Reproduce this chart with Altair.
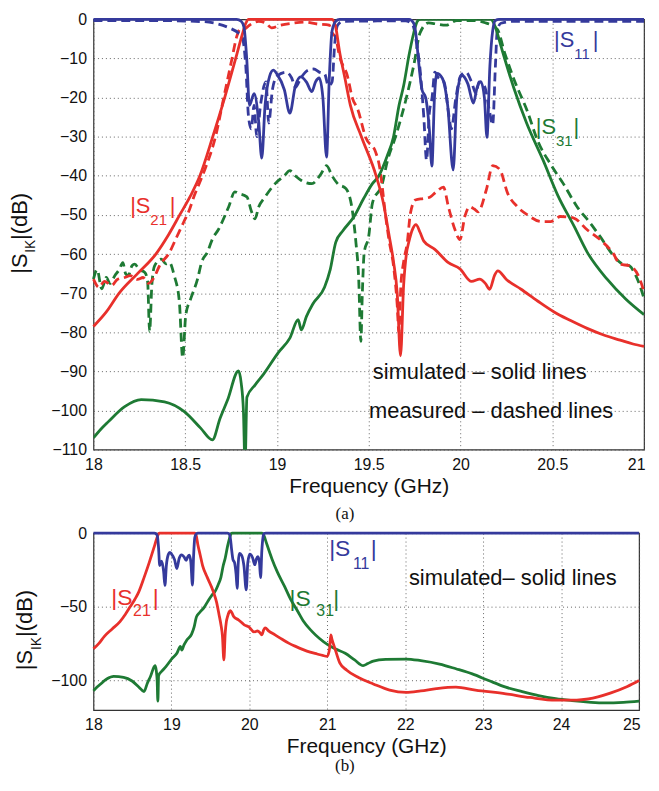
import altair as alt
import pandas as pd

BLUE = "#353a9c"
RED = "#e8302b"
GREEN = "#1e7a34"
FONT = "Liberation Sans"

# ---------------- panel (a): 18-21 GHz ----------------
s11_sim = [(18.0, 0), (18.78, 0), (18.805, -0.5), (18.82, -2), (18.835, -10), (18.85, -22),
           (18.875, -19), (18.9, -26), (18.917, -35.5), (18.935, -22), (18.96, -14.5), (18.98, -13),
           (19.0, -14), (19.04, -18), (19.07, -24), (19.1, -17), (19.13, -14.7), (19.16, -16),
           (19.19, -18.5), (19.21, -16), (19.23, -15), (19.25, -20), (19.27, -35.2), (19.285, -15),
           (19.3, -3), (19.32, -0.5), (19.34, 0), (19.72, 0), (19.745, -1), (19.76, -5), (19.77, -10),
           (19.79, -18), (19.81, -20), (19.83, -28), (19.844, -37.5), (19.858, -20), (19.871, -13.8),
           (19.9, -15), (19.93, -22), (19.96, -38.5), (19.98, -20), (20.006, -14.3), (20.04, -16.5),
           (20.07, -21.4), (20.09, -17.5), (20.11, -15.9), (20.13, -20), (20.144, -30.2), (20.16, -12),
           (20.175, -3), (20.19, -0.3), (20.21, 0), (21.0, 0)]

s11_meas = [(18.0, -0.3), (18.3, -0.3), (18.6, -0.6), (18.68, -1.2), (18.74, -2.2), (18.79, -3.5),
            (18.81, -4.5), (18.83, -12), (18.845, -25), (18.86, -28), (18.875, -22), (18.89, -30),
            (18.91, -22), (18.94, -16), (18.955, -26.5), (18.975, -18), (19.0, -14.5), (19.05, -13.5),
            (19.08, -15), (19.1, -17.4), (19.13, -15), (19.17, -13), (19.2, -12.7), (19.23, -13.5),
            (19.26, -14), (19.28, -17), (19.3, -16), (19.315, -6), (19.33, -1.5), (19.36, -0.5),
            (19.7, -0.4), (19.74, -1.5), (19.76, -6), (19.78, -13), (19.8, -25), (19.815, -36),
            (19.83, -24), (19.845, -20), (19.86, -13.5), (19.88, -15), (19.91, -16), (19.935, -24),
            (19.95, -28), (19.975, -20), (20.0, -14.5), (20.03, -13.5), (20.06, -16), (20.085, -19),
            (20.1, -16), (20.13, -17), (20.16, -24), (20.175, -27), (20.19, -12), (20.2, -3),
            (20.22, -1), (20.3, -0.5), (21.0, -0.5)]

s21_sim = [(18.0, -78.5), (18.07, -74.8), (18.14, -70), (18.24, -65), (18.34, -60), (18.41, -55),
           (18.47, -50), (18.53, -45), (18.58, -40), (18.65, -30), (18.715, -20), (18.775, -10),
           (18.81, -4), (18.83, -1), (18.845, 0), (19.3, 0), (19.32, -2), (19.34, -8), (19.37, -15),
           (19.4, -22), (19.46, -30), (19.54, -40), (19.58, -47), (19.61, -55), (19.635, -62),
           (19.655, -70), (19.673, -86), (19.69, -68), (19.705, -60), (19.718, -57), (19.74, -53.5),
           (19.757, -52.5), (19.78, -54.5), (19.8, -56.7), (19.86, -58.8), (19.934, -62.2),
           (19.997, -63.8), (20.06, -67), (20.105, -66.4), (20.135, -67.5), (20.159, -69),
           (20.185, -65.5), (20.203, -64.3), (20.25, -66.5), (20.33, -69), (20.42, -72), (20.51, -74.8),
           (20.6, -77), (20.69, -79), (20.78, -80.7), (20.87, -82), (20.94, -83), (21.0, -83.6)]

s21_meas = [(18.0, -66.4), (18.03, -68.5), (18.06, -67), (18.1, -68), (18.13, -66.5), (18.17, -66),
            (18.2, -65.5), (18.24, -66.5), (18.27, -66), (18.3, -67.5), (18.33, -66), (18.36, -63),
            (18.414, -59.6), (18.45, -56), (18.49, -52), (18.52, -49), (18.55, -45), (18.585, -41),
            (18.61, -38), (18.665, -30), (18.71, -20), (18.755, -10), (18.78, -4.5), (18.8, -2.5),
            (18.82, -2.5), (18.85, -1.5), (18.9, -0.5), (18.94, -1), (18.97, -2.2), (19.02, -1.5),
            (19.08, -1), (19.15, -0.7), (19.22, -1.2), (19.285, -1.5), (19.3, -3.4), (19.32, -4.7),
            (19.34, -9.3), (19.385, -14.7), (19.41, -20), (19.44, -23), (19.484, -30.3), (19.538, -34),
            (19.56, -38), (19.574, -43), (19.59, -49.6), (19.61, -56.3), (19.637, -63.8), (19.655, -73),
            (19.664, -80), (19.675, -68), (19.69, -62), (19.71, -57), (19.727, -49.6), (19.754, -46.2),
            (19.8, -45.8), (19.835, -45.4), (19.87, -44), (19.907, -42.9), (19.934, -47.9),
            (19.97, -53.8), (19.997, -56.3), (20.024, -50.3), (20.05, -47.9), (20.075, -48.5),
            (20.096, -49.2), (20.14, -43.7), (20.176, -37.4), (20.213, -38.3), (20.257, -44.5),
            (20.31, -47.9), (20.365, -50), (20.44, -51.7), (20.49, -51.7), (20.545, -50.4),
            (20.617, -50.8), (20.69, -53.8), (20.76, -56.3), (20.83, -59.7), (20.87, -62.6),
            (20.92, -63), (20.977, -66.4), (21.0, -69.7)]

s31_sim = [(18.0, -107), (18.04, -104.8), (18.08, -102.9), (18.17, -99), (18.26, -97.2),
           (18.387, -97.8), (18.495, -100.3), (18.584, -104.5), (18.648, -107.5), (18.69, -102),
           (18.73, -97.4), (18.79, -89.9), (18.805, -93), (18.817, -100), (18.826, -114),
           (18.836, -96.6), (18.88, -93.5), (18.927, -90.7), (19.007, -85.2), (19.07, -81.5),
           (19.115, -76.8), (19.133, -79.4), (19.16, -76), (19.196, -72.7), (19.259, -68.5),
           (19.29, -64), (19.32, -57), (19.36, -54), (19.42, -50.4), (19.47, -46), (19.52, -42),
           (19.555, -40), (19.6, -35), (19.635, -30), (19.665, -22), (19.69, -17), (19.72, -9),
           (19.745, -3.5), (19.765, -0.5), (19.78, 0), (20.165, 0), (20.19, -2), (20.22, -6.8),
           (20.29, -17.5), (20.36, -26.5), (20.45, -36), (20.53, -45), (20.62, -53), (20.69, -59.5),
           (20.8, -66.5), (20.9, -71.5), (21.0, -75.5)]

s31_meas = [(18.0, -66.4), (18.02, -64), (18.045, -68.9), (18.07, -66), (18.09, -67.5), (18.117, -65.5),
            (18.14, -64), (18.16, -62.2), (18.175, -65), (18.19, -65.5), (18.21, -63), (18.225, -62.6),
            (18.25, -64), (18.28, -64.7), (18.295, -67), (18.306, -79.8), (18.318, -68), (18.333, -63),
            (18.37, -61.3), (18.395, -62.5), (18.414, -62.2), (18.44, -65.5), (18.468, -72.2),
            (18.486, -86.5), (18.503, -75.6), (18.53, -71.4), (18.567, -66.4), (18.59, -62),
            (18.62, -59.6), (18.65, -56), (18.68, -53.8), (18.737, -47.9), (18.77, -44.1),
            (18.79, -44.5), (18.836, -45.4), (18.86, -49), (18.88, -51), (18.9, -48), (18.935, -45.4),
            (18.99, -42), (19.04, -40), (19.07, -38.7), (19.1, -40), (19.133, -41.2), (19.19, -42),
            (19.24, -39.5), (19.27, -37.4), (19.3, -40), (19.33, -42), (19.376, -43.3), (19.41, -48.7),
            (19.43, -57), (19.445, -66), (19.457, -82.3), (19.465, -70), (19.475, -59.7), (19.5, -55.4),
            (19.52, -47), (19.574, -42), (19.6, -36.5), (19.646, -30), (19.7, -21), (19.745, -11.8),
            (19.78, -3.4), (19.826, -0.9), (19.87, -1.2), (19.92, -1.5), (19.98, -0.3), (20.07, -0.3),
            (20.13, -0.8), (20.2, -2.5), (20.24, -8.5), (20.29, -15.2), (20.365, -23.6), (20.42, -31),
            (20.49, -37), (20.56, -42), (20.635, -47.9), (20.707, -52.1), (20.76, -55.5),
            (20.85, -61.3), (20.88, -62.5), (20.92, -63), (20.95, -65), (20.977, -68), (21.0, -71.4)]

# ---------------- panel (b): simulated curves continued up to 25 GHz ----------------
s11_ext = [(25.0, 0)]
s21_ext = [(21.03, -78), (21.045, -69), (21.06, -72), (21.1, -78.6), (21.16, -88), (21.25, -93),
           (21.4, -98), (21.59, -102.3), (21.8, -106.5), (22.01, -108), (22.2, -107), (22.4, -105.5),
           (22.65, -104.5), (22.9, -106.5), (23.29, -109), (23.6, -111.5), (23.93, -113.3),
           (24.2, -113.3), (24.35, -112.5), (24.63, -108.5), (24.85, -104), (25.0, -100)]
s31_ext = [(21.1, -78.5), (21.23, -81.5), (21.35, -86), (21.46, -89.9), (21.52, -88.5), (21.59, -86.8),
           (21.75, -85.7), (22.01, -85.4), (22.2, -86.5), (22.44, -88.8), (22.65, -92), (22.86, -95.5),
           (23.07, -100), (23.29, -104.5), (23.5, -107.5), (23.71, -110.2), (23.93, -112.3),
           (24.14, -113.6), (24.35, -114.6), (24.56, -115.2), (24.8, -114.8), (25.0, -114)]

# ticks
xa_ticks = [18, 18.5, 19, 19.5, 20, 20.5, 21]
ya_ticks = list(range(-110, 1, 10))
xb_ticks = [18, 19, 20, 21, 22, 23, 24, 25]
yb_ticks = [-100, -50, 0]

# annotations (text, f, dB, size, colour)
labels_a = [("|S", 18.2, -49.6, 22, RED), ("21", 18.31, -52.6, 15, RED), ("|", 18.415, -49.6, 22, RED),
            ("|S", 20.51, -7.2, 22, BLUE), ("11", 20.62, -10.1, 15, BLUE), ("|", 20.72, -7.2, 22, BLUE),
            ("|S", 20.41, -29.4, 22, GREEN), ("31", 20.52, -32.3, 15, GREEN), ("|", 20.615, -29.4, 22, GREEN)]
notes_a = [("simulated – solid lines", 20.105, -91.9), ("measured – dashed lines", 20.167, -101.9)]

labels_b = [("|S", 18.229, -49.0, 23, RED), ("21", 18.508, -56, 16, RED), ("|", 18.762, -49.0, 23, RED),
            ("|S", 20.516, -49.2, 23, GREEN), ("31", 20.859, -56, 16, GREEN), ("|", 21.075, -49.2, 23, GREEN),
            ("|S", 21.024, -15.3, 23, BLUE), ("11", 21.329, -24.3, 16, BLUE), ("|", 21.558, -15.3, 23, BLUE)]
notes_b = [("simulated– solid lines", 23.38, -35.5)]


def line(pairs, color, dashed, X, Y, clip=False):
    d = pd.DataFrame(pairs, columns=["f", "db"])
    kw = dict(color=color, strokeWidth=2.8, interpolate="monotone", clip=clip)
    if dashed:
        kw["strokeDash"] = [9, 5]
    return alt.Chart(d).mark_line(**kw).encode(x=X, y=Y)


def sub_labels(items, X, Y):
    d = pd.DataFrame(items, columns=["t", "f", "db", "s", "c"])
    return alt.Chart(d).mark_text(align="left", baseline="alphabetic", font=FONT).encode(
        x=X, y=Y, text="t:N", size=alt.Size("s:Q", scale=None), color=alt.Color("c:N", scale=None))


def notes(items, X, Y, size):
    d = pd.DataFrame(items, columns=["t", "f", "db"])
    return alt.Chart(d).mark_text(align="center", baseline="alphabetic", font=FONT,
                                  fontSize=size, color="#111").encode(x=X, y=Y, text="t:N")


def pix_text(txt, px, py, size, angle=0, font=FONT, align="left", baseline="alphabetic"):
    d = pd.DataFrame({"t": [txt]})
    return alt.Chart(d).mark_text(align=align, baseline=baseline, angle=angle, font=font,
                                  fontSize=size, color="#111").encode(
        x=alt.value(px), y=alt.value(py), text="t:N")


def axes(xdom, xt, ydom, yt):
    last = xt[-1]
    X = alt.X("f:Q", scale=alt.Scale(domain=xdom, nice=False, zero=False),
              axis=alt.Axis(values=xt, format="~g", title="Frequency (GHz)",
                            labelAlign={"condition": {"test": f"datum.value == {last}", "value": "right"},
                                        "value": "center"},
                            labelOffset={"condition": {"test": f"datum.value == {last}", "value": 1},
                                         "value": 0}))
    Y = alt.Y("db:Q", scale=alt.Scale(domain=ydom, nice=False, zero=False),
              axis=alt.Axis(values=yt, format="d", title=None))
    return X, Y


Xa, Ya = axes([18, 21], xa_ticks, [-110, 0], ya_ticks)
panel_a = alt.layer(
    line(s31_meas, GREEN, True, Xa, Ya),
    line(s21_meas, RED, True, Xa, Ya),
    line(s11_meas, BLUE, True, Xa, Ya),
    line(s31_sim, GREEN, False, Xa, Ya, clip=True),
    line(s21_sim, RED, False, Xa, Ya),
    line(s11_sim, BLUE, False, Xa, Ya),
    sub_labels(labels_a, Xa, Ya),
    notes(notes_a, Xa, Ya, 22),
    pix_text("|S", -67, 256, 22, angle=270),
    pix_text("IK", -59, 235, 14, angle=270),
    pix_text("|(dB)", -67, 222, 22, angle=270),
    pix_text("(a)", 253, 498, 17, font="Liberation Serif", align="center", baseline="middle"),
).properties(width=554, height=433)

Xb, Yb = axes([18, 25], xb_ticks, [-120, 0], yb_ticks)
panel_b = alt.layer(
    line(s31_sim + s31_ext, GREEN, False, Xb, Yb),
    line(s21_sim + s21_ext, RED, False, Xb, Yb),
    line(s11_sim + s11_ext, BLUE, False, Xb, Yb),
    sub_labels(labels_b, Xb, Yb),
    notes(notes_b, Xb, Yb, 22),
    pix_text("|S", -62, 138, 22, angle=270),
    pix_text("IK", -53, 117.6, 14, angle=270),
    pix_text("|(dB)", -62, 104.4, 22, angle=270),
    pix_text("(b)", 253, 234, 17, font="Liberation Serif", align="center", baseline="middle"),
).properties(width=549, height=178)

chart = alt.vconcat(panel_a, panel_b, spacing=1).configure_axis(
    labelFont=FONT, labelFontSize=16, labelColor="#111", labelPadding=7,
    titleFont=FONT, titleFontSize=21, titleFontWeight="normal", titleColor="#111", titlePadding=3,
    grid=True, gridColor="#555", gridDash=[1, 3], gridWidth=1, gridOpacity=0.9,
    domain=False, ticks=False,
).configure_view(stroke="#333", strokeWidth=1.2).properties(
    background="white", padding={"top": 0, "left": 0, "right": 0, "bottom": 0})

chart.save("out.html", embed_options={"renderer": "svg", "actions": False})
